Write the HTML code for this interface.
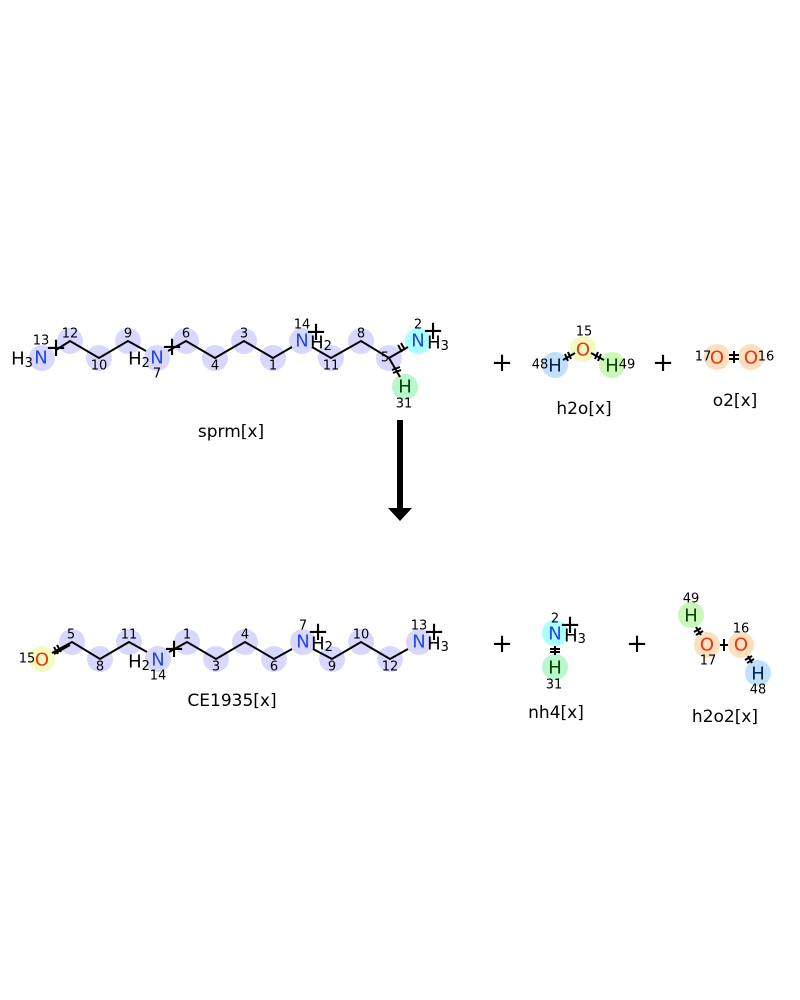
<!DOCTYPE html>
<html><head><meta charset="utf-8"><style>
html,body{margin:0;padding:0;background:#fff;}
svg{display:block;font-family:"DejaVu Sans","Liberation Sans",sans-serif;}
.a{font-size:18px;text-anchor:middle;dominant-baseline:central;}
.n{font-size:13px;fill:#000;text-anchor:middle;dominant-baseline:central;}
.l{font-size:17px;fill:#000;text-anchor:middle;}
.b{stroke:#000;stroke-width:2;fill:none;}
.p{font-size:26px;text-anchor:middle;dominant-baseline:central;}
</style></head><body>
<svg width="800" height="1000" viewBox="0 0 800 1000" xmlns="http://www.w3.org/2000/svg">
<g fill="#d8d8ff">
<circle cx="42" cy="358" r="13"/><circle cx="70" cy="341" r="13"/><circle cx="99" cy="358" r="13"/><circle cx="128" cy="341" r="13"/><circle cx="157" cy="358" r="13"/><circle cx="186" cy="341" r="13"/><circle cx="215" cy="358" r="13"/><circle cx="244" cy="341" r="13"/><circle cx="273" cy="358" r="13"/><circle cx="302" cy="341" r="13"/><circle cx="331" cy="358" r="13"/><circle cx="361" cy="341" r="13"/><circle cx="389" cy="358" r="13"/>
<circle cx="72" cy="642" r="13"/><circle cx="100" cy="659" r="13"/><circle cx="129" cy="642" r="13"/><circle cx="158" cy="659" r="13"/><circle cx="187" cy="642" r="13"/><circle cx="216" cy="659" r="13"/><circle cx="245" cy="642" r="13"/><circle cx="274" cy="659" r="13"/><circle cx="303" cy="642" r="13"/><circle cx="332" cy="659" r="13"/><circle cx="361" cy="642" r="13"/><circle cx="390" cy="659" r="13"/><circle cx="419" cy="642" r="13"/>
</g>
<circle cx="418" cy="341" r="13" fill="#aaffff"/>
<circle cx="405" cy="387" r="13" fill="#bbf7cc"/>
<circle cx="42" cy="659" r="13" fill="#f4fbc0"/>
<circle cx="555" cy="633" r="13" fill="#aaffff"/>
<circle cx="555" cy="667" r="13" fill="#bbf7cc"/>
<circle cx="691" cy="615" r="13" fill="#ccf7bb"/>
<circle cx="707" cy="645" r="13" fill="#fde0c0"/>
<circle cx="741" cy="645" r="13" fill="#fde0c0"/>
<circle cx="758" cy="673" r="13" fill="#c0e0fd"/>
<circle cx="583" cy="349" r="13" fill="#f4fbc0"/>
<circle cx="555" cy="365" r="13" fill="#c0e0fd"/>
<circle cx="612" cy="365" r="13" fill="#ccf7bb"/>
<circle cx="717" cy="357" r="13" fill="#fde0c0"/>
<circle cx="751" cy="357" r="13" fill="#fde0c0"/>

<polyline class="b" points="56,350 70,341 99,358 128,341 146,351"/>
<polyline class="b" points="168,351 186,341 215,358 244,341 273,358 292,347"/>
<polyline class="b" points="312,347 331,358 361,341 389,358 408,347"/>
<line class="b" x1="389" y1="358" x2="400" y2="377"/>
<path class="b" stroke-width="1.5" d="M398,345 l4,7 M401,343 l4,7 M392,370 l8,-3 M393,373 l8,-3"/>
<polyline class="b" points="52,653 72,642 100,659 129,642 147,652"/>
<line class="b" x1="54" y1="654" x2="70" y2="645" stroke-width="1.5"/>
<path class="b" stroke-width="1.5" d="M54,647 l4,7 M57,645 l4,7"/>
<polyline class="b" points="169,652 187,642 216,659 245,642 274,659 292,649"/>
<polyline class="b" points="313,649 332,659 361,642 390,659 408,649"/>
<line class="b" x1="555" y1="646" x2="555" y2="655"/>
<path class="b" stroke-width="1.5" d="M550,649 h10 M550,652 h10"/>
<line class="b" x1="696" y1="627" x2="701" y2="635"/>
<path class="b" stroke-width="1.5" d="M694,632 l7,-4 M696,635 l7,-4"/>
<line class="b" x1="720" y1="645" x2="728" y2="645"/>
<line class="b" x1="724" y1="639" x2="724" y2="651" stroke-width="1.5"/>
<line class="b" x1="748" y1="656" x2="752" y2="663"/>
<path class="b" stroke-width="1.5" d="M745,660 l7,-4 M747,663 l7,-4"/>
<line class="b" x1="563" y1="360" x2="575" y2="353"/>
<line class="b" x1="591" y1="353" x2="604" y2="360"/>
<path class="b" stroke-width="1.5" d="M565,354 l3,7 M568,352 l3,7 M598,352 l-3,7 M601,354 l-3,7"/>
<line class="b" x1="729" y1="355" x2="739" y2="355" stroke-width="1.5"/>
<line class="b" x1="729" y1="359" x2="739" y2="359" stroke-width="1.5"/>
<line class="b" x1="734" y1="351" x2="734" y2="363" stroke-width="1.5"/>

<text class="a" x="41" y="358" fill="#2244ee">N</text>
<text class="a" x="22" y="359" fill="#000">H<tspan font-size="13" dy="4">3</tspan></text>
<text class="a" x="157" y="358" fill="#2244ee">N</text>
<text class="a" x="139" y="359" fill="#000">H<tspan font-size="13" dy="4">2</tspan></text>
<text class="a" x="302" y="341" fill="#2244ee">N</text>
<text class="a" x="321" y="343" fill="#000">H<tspan font-size="13" dy="3">2</tspan></text>
<text class="a" x="418" y="341" fill="#2244ee">N</text>
<text class="a" x="438" y="343" fill="#000">H<tspan font-size="13" dy="3">3</tspan></text>
<text class="a" x="405" y="387" fill="#004400">H</text>
<text class="p" x="56" y="348" font-size="22">+</text>
<text class="p" x="172" y="347" font-size="22">+</text>
<text class="p" x="316" y="332" font-size="22">+</text>
<text class="p" x="433" y="331" font-size="22">+</text>
<g class="n">
<text x="41" y="341">13</text><text x="70" y="334">12</text><text x="99" y="366">10</text><text x="128" y="334">9</text><text x="157" y="374">7</text><text x="186" y="334">6</text><text x="215" y="366">4</text><text x="244" y="334">3</text><text x="273" y="366">1</text><text x="302" y="325">14</text><text x="331" y="366">11</text><text x="361" y="334">8</text><text x="385" y="358">5</text><text x="418" y="325">2</text><text x="404" y="404">31</text>
</g>
<text class="a" x="42" y="660" fill="#ee3311">O</text>
<text class="a" x="158" y="660" fill="#2244ee">N</text>
<text class="a" x="139" y="662" fill="#000">H<tspan font-size="13" dy="4">2</tspan></text>
<text class="a" x="303" y="642" fill="#2244ee">N</text>
<text class="a" x="322" y="644" fill="#000">H<tspan font-size="13" dy="3">2</tspan></text>
<text class="a" x="419" y="642" fill="#2244ee">N</text>
<text class="a" x="438" y="644" fill="#000">H<tspan font-size="13" dy="3">3</tspan></text>
<text class="p" x="174" y="649" font-size="22">+</text>
<text class="p" x="318" y="632" font-size="22">+</text>
<text class="p" x="434" y="632" font-size="22">+</text>
<g class="n">
<text x="27" y="659">15</text><text x="71" y="635">5</text><text x="100" y="667">8</text><text x="129" y="635">11</text><text x="158" y="676">14</text><text x="187" y="635">1</text><text x="216" y="667">3</text><text x="245" y="635">4</text><text x="274" y="667">6</text><text x="303" y="626">7</text><text x="332" y="667">9</text><text x="361" y="635">10</text><text x="390" y="667">12</text><text x="419" y="626">13</text>
</g>
<text class="a" x="555" y="634" fill="#2244ee">N</text>
<text class="a" x="575" y="636" fill="#000">H<tspan font-size="13" dy="3">3</tspan></text>
<text class="p" x="570" y="625" font-size="22">+</text>
<text class="a" x="555" y="668" fill="#004400">H</text>
<text class="n" x="555" y="619">2</text><text class="n" x="554" y="685">31</text>
<text class="a" x="691" y="616" fill="#004400">H</text>
<text class="a" x="707" y="645" fill="#ee3311">O</text>
<text class="a" x="741" y="645" fill="#ee3311">O</text>
<text class="a" x="758" y="674" fill="#002244">H</text>
<g class="n"><text x="691" y="599">49</text><text x="708" y="661">17</text><text x="741" y="629">16</text><text x="758" y="690">48</text></g>
<text class="a" x="583" y="350" fill="#ee3311">O</text>
<text class="a" x="555" y="366" fill="#002244">H</text>
<text class="a" x="612" y="366" fill="#004400">H</text>
<g class="n"><text x="584" y="332">15</text><text x="540" y="365">48</text><text x="627" y="365">49</text></g>
<text class="a" x="717" y="358" fill="#ee3311">O</text>
<text class="a" x="751" y="358" fill="#ee3311">O</text>
<g class="n"><text x="703" y="357">17</text><text x="766" y="357">16</text></g>
<text class="p" x="502" y="363">+</text>
<text class="p" x="663" y="363">+</text>
<text class="p" x="502" y="644">+</text>
<text class="p" x="637" y="644">+</text>
<text class="l" x="231" y="437">sprm[x]</text>
<text class="l" x="584" y="414">h2o[x]</text>
<text class="l" x="735" y="406">o2[x]</text>
<text class="l" x="232" y="706">CE1935[x]</text>
<text class="l" x="556" y="718">nh4[x]</text>
<text class="l" x="725" y="722">h2o2[x]</text>
<rect x="397" y="420" width="6" height="90" fill="#000"/>
<polygon points="388,508 412,508 400,521" fill="#000"/>
</svg>
</body></html>
